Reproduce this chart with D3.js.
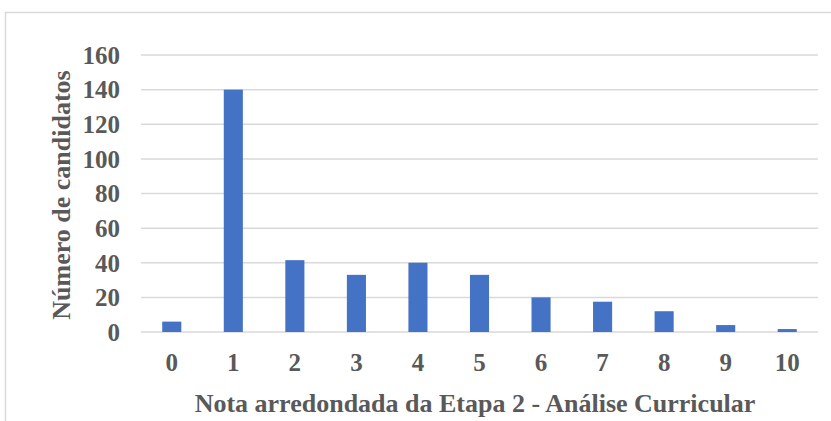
<!DOCTYPE html>
<html>
<head>
<meta charset="utf-8">
<script src="https://cdn.jsdelivr.net/npm/d3@7"></script>
<style>
  body { margin: 0; background: #fff; }
  text { font-family: "Liberation Serif", "Times New Roman", serif; font-weight: bold; fill: #595959; }
</style>
</head>
<body>
<svg id="chart" width="831" height="421"></svg>
<script>
// notas arredondadas e número de candidatos
var notas = ["0","1","2","3","4","5","6","7","8","9","10"];
var candidatos = [6, 140, 41.5, 33, 40, 33, 20, 17.5, 12, 4, 1.7];
var yTicks = [0, 20, 40, 60, 80, 100, 120, 140, 160];

var svg = d3.select("#chart");
var plotLeft = 141, plotRight = 818, plotTop = 55, plotBottom = 332;

// moldura do gráfico
svg.append("rect")
    .attr("x", 5.5).attr("y", 12.5)
    .attr("width", 900).attr("height", 500)
    .attr("fill", "none")
    .attr("stroke", "#d9d9d9")
    .attr("stroke-width", 1.5);

var x = d3.scaleBand()
    .domain(notas)
    .range([plotLeft, plotRight])
    .paddingInner(0.69)
    .paddingOuter(0.345);

var y = d3.scaleLinear()
    .domain([0, 160])
    .range([plotBottom, plotTop]);

// linhas de grade
svg.append("g")
    .selectAll("line")
    .data(yTicks)
    .enter()
    .append("line")
    .attr("x1", plotLeft).attr("x2", plotRight)
    .attr("y1", function(d){ return y(d); })
    .attr("y2", function(d){ return y(d); })
    .attr("stroke", "#d9d9d9")
    .attr("stroke-width", 1.5);

// rótulos do eixo y
svg.append("g")
    .selectAll("text")
    .data(yTicks)
    .enter()
    .append("text")
    .attr("x", 120)
    .attr("y", function(d){ return y(d); })
    .attr("dy", "0.35em")
    .attr("text-anchor", "end")
    .attr("font-size", "25px")
    .text(function(d){ return d; });

// barras
svg.append("g")
    .selectAll("rect")
    .data(candidatos)
    .enter()
    .append("rect")
    .attr("x", function(d, i){ return x(notas[i]); })
    .attr("y", function(d){ return y(d); })
    .attr("width", x.bandwidth())
    .attr("height", function(d){ return y(0) - y(d); })
    .attr("fill", "#4472c4");

// rótulos do eixo x
svg.append("g")
    .selectAll("text")
    .data(notas)
    .enter()
    .append("text")
    .attr("x", function(d){ return x(d) + x.bandwidth() / 2; })
    .attr("y", 371)
    .attr("text-anchor", "middle")
    .attr("font-size", "25px")
    .text(function(d){ return d; });

// títulos dos eixos
svg.append("text")
    .attr("x", 475)
    .attr("y", 412)
    .attr("text-anchor", "middle")
    .attr("font-size", "26px")
    .text("Nota arredondada da Etapa 2 - Análise Curricular");

svg.append("text")
    .attr("transform", "translate(70,195) rotate(-90)")
    .attr("text-anchor", "middle")
    .attr("font-size", "26px")
    .text("Número de candidatos");
</script>
</body>
</html>
